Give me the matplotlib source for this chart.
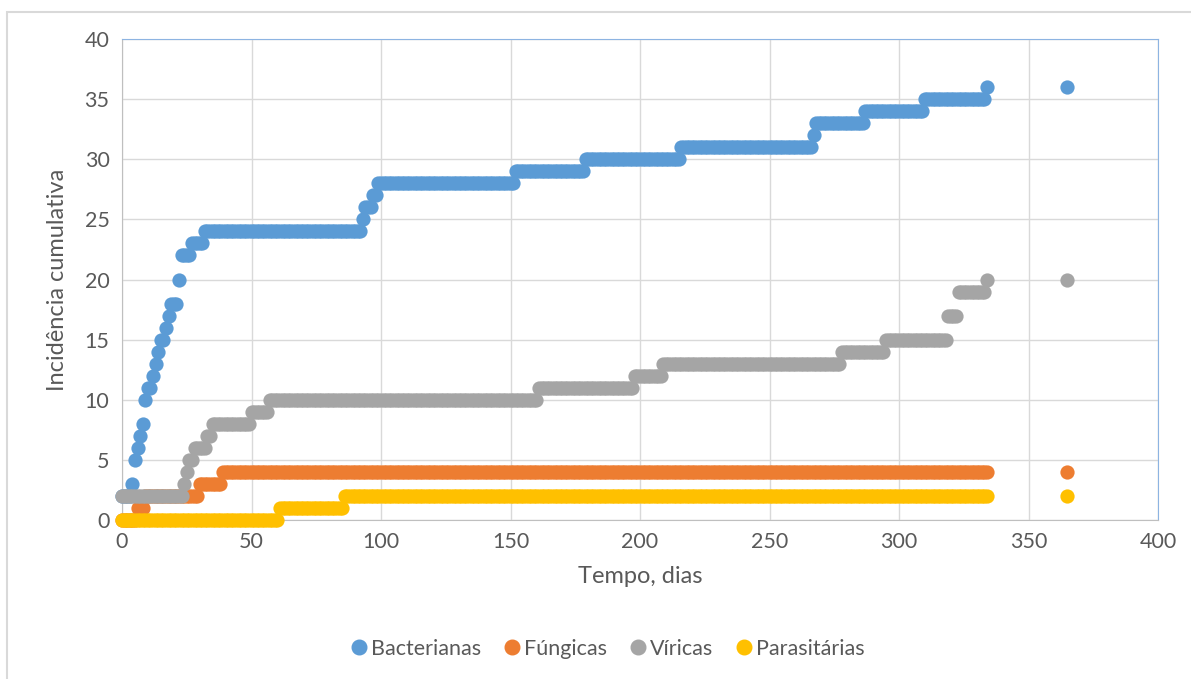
import numpy as np
import matplotlib
matplotlib.use('Agg')
import matplotlib.pyplot as plt
from matplotlib.patches import Rectangle
from matplotlib.lines import Line2D

plt.rcParams['font.family'] = ['Lato', 'DejaVu Sans']

# follow-up days (daily points up to day 334, then final point at 365)
days = list(range(0, 335)) + [365]

# cumulative incidence: day where the value changes -> new value
bact_days = [0, 4, 5, 6, 7, 8, 9, 10, 12, 13, 14, 15, 17, 18, 19, 22, 23, 27, 32,
             93, 94, 97, 99, 152, 179, 216, 267, 268, 287, 310, 334]
bact_vals = [2, 3, 5, 6, 7, 8, 10, 11, 12, 13, 14, 15, 16, 17, 18, 20, 22, 23, 24,
             25, 26, 27, 28, 29, 30, 31, 32, 33, 34, 35, 36]

fung_days = [0, 6, 9, 30, 39]
fung_vals = [0, 1, 2, 3, 4]

vir_days = [0, 24, 25, 26, 28, 33, 35, 50, 57, 161, 198, 209, 278, 295, 319, 323, 334]
vir_vals = [2, 3, 4, 5, 6, 7, 8, 9, 10, 11, 12, 13, 14, 15, 17, 19, 20]

par_days = [0, 61, 86]
par_vals = [0, 1, 2]

names = ['Bacterianas', 'Fúngicas', 'Víricas', 'Parasitárias']
colors = ['#5B9BD5', '#ED7D31', '#A5A5A5', '#FFC000']


def cumulative(change_days, change_vals):
    d = np.array(days)
    idx = np.searchsorted(np.array(change_days), d, side='right') - 1
    return np.array(change_vals)[idx]


series = [cumulative(bact_days, bact_vals), cumulative(fung_days, fung_vals),
          cumulative(vir_days, vir_vals), cumulative(par_days, par_vals)]

W, H = 1191, 679
fig = plt.figure(figsize=(W / 100, H / 100), dpi=100)
ax = fig.add_axes([122 / W, 1 - 520 / H, (1158 - 122) / W, (520 - 39) / H])

for y, c in zip(series, colors):
    ax.scatter(days, y, s=105, color=c, linewidths=0, zorder=3, clip_on=False)

ax.set_xlim(0, 400)
ax.set_ylim(0, 40)
ax.set_xticks(range(0, 401, 50))
ax.set_yticks(range(0, 41, 5))
ax.grid(True, color='#D9D9D9', linewidth=1)
ax.set_axisbelow(True)
ax.tick_params(length=0, labelsize=15.5, labelcolor='#595959', pad=9)
for s in ['left', 'bottom']:
    ax.spines[s].set_color('#BFBFBF')
for s in ['top', 'right']:
    ax.spines[s].set_color('#8DB4E2')

ax.set_xlabel('Tempo, dias', fontsize=17, color='#595959', labelpad=10)
ax.set_ylabel('Incidência cumulativa', fontsize=17, color='#595959', labelpad=12)

handles = [Line2D([], [], marker='o', linestyle='', color=c, markersize=10.5) for c in colors]
fig.legend(handles, names, loc='center', bbox_to_anchor=(608 / W, 1 - 649 / H), ncol=4,
           frameon=False, fontsize=15.5, labelcolor='#595959', handlelength=0.7,
           handletextpad=0.2, columnspacing=1.1)

fig.patches.append(Rectangle((7 / W, -0.05), 1.1, 1 - 12 / H + 0.05, transform=fig.transFigure,
                             fill=False, edgecolor='#D9D9D9', linewidth=1.5))

fig.savefig('out.png', dpi=100)
